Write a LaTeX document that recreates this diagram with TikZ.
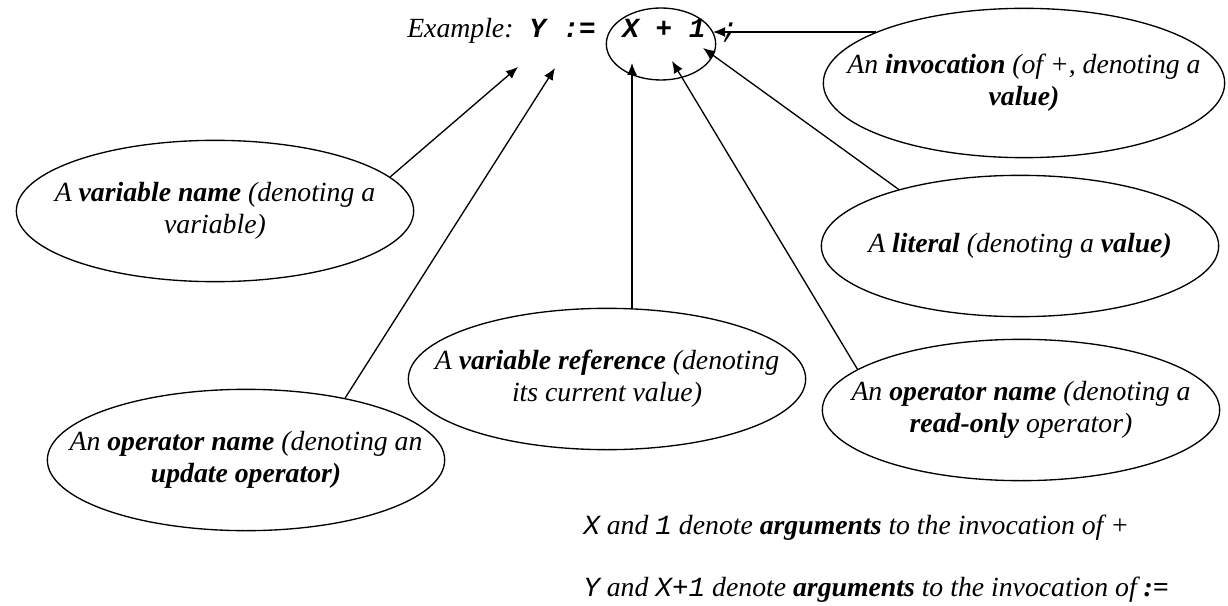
\documentclass[tikz,border=0pt]{standalone}
\usepackage{fontspec}
\setmainfont{Liberation Serif}
\setmonofont{Liberation Mono}
\usetikzlibrary{shapes.geometric,arrows.meta}

\newcommand{\tok}[1]{{\itshape\ttfamily #1}}
\newcommand{\btok}[1]{{\bfseries\itshape\ttfamily #1}}

\tikzset{
  bubble/.style={draw, ellipse, line width=1pt, minimum width=298pt, minimum height=106pt, inner sep=0pt},
  bubbletext/.style={align=center, inner sep=0pt},
  pointer/.style={-{Latex[length=9pt,width=7.5pt]}, line width=1pt},
  plain/.style={anchor=base west, inner sep=0pt}
}

\begin{document}
\begin{tikzpicture}[x=0.75pt, y=-0.75pt, font=\fontsize{20.8}{24}\selectfont\itshape]
    \useasboundingbox (0,0) rectangle (1228,606);

    % the statement
    \node[plain] (example) at (407,38) {Example:};
    \node[plain] (lhs) at (529,38) {\btok{Y :=}};
    \node[anchor=base, inner sep=0pt] (rhs) at (664,38) {\btok{X + 1}};
    \node[plain] (semi) at (721,38) {\tok{;}};
    \node[draw, ellipse, line width=1pt, minimum width=82pt, minimum height=54pt] (sum) at (661,44) {};

    \coordinate (ytip) at (518,67);
    \coordinate (asgtip) at (555,68);
    \coordinate (xtip) at (632,63);
    \coordinate (plustip) at (672,61);
    \coordinate (onetip) at (703,48);
    \coordinate (invtip) at (713,32);

    % the parts
    \node[bubble, minimum width=301pt, minimum height=112pt,
          label={[bubbletext]center:{An \textbf{invocation} (of +, denoting a\\\textbf{value)}}}] (invocation) at (1024,83) {};
    \node[bubble, label={[bubbletext]center:{A \textbf{variable name} (denoting a\\variable)}}] (varname) at (215,211) {};
    \node[bubble, label={[bubbletext]center:{A \textbf{literal} (denoting a \textbf{value)}}}] (literal) at (1020,246) {};
    \node[bubble, label={[bubbletext]center:{A \textbf{variable reference} (denoting\\its current value)}}] (varref) at (607,379) {};
    \node[bubble, label={[bubbletext]center:{An \textbf{operator name} (denoting a\\\textbf{read-only} operator)}}] (readonly) at (1021,410) {};
    \node[bubble, label={[bubbletext]center:{An \textbf{operator name} (denoting an\\\textbf{update operator)}}}] (update) at (246,460) {};

    \draw[pointer] (varname.11) -- (ytip);
    \draw[pointer] (update.32) -- (asgtip);
    \draw[pointer] (xtip |- varref.north) -- (xtip);
    \draw[pointer] (readonly.166) -- (plustip);
    \draw[pointer] (literal.155) -- (onetip);
    \draw[pointer] (invocation.161 |- invtip) -- (invtip);

    % notes
    \node[plain] (note1) at (583,534) {\tok{X} and \tok{1} denote \textbf{arguments} to the invocation of +};
    \node[plain] (note2) at (583,596) {\tok{Y} and \tok{X+1} denote \textbf{arguments} to the invocation of \textbf{:=}};
\end{tikzpicture}
\end{document}
